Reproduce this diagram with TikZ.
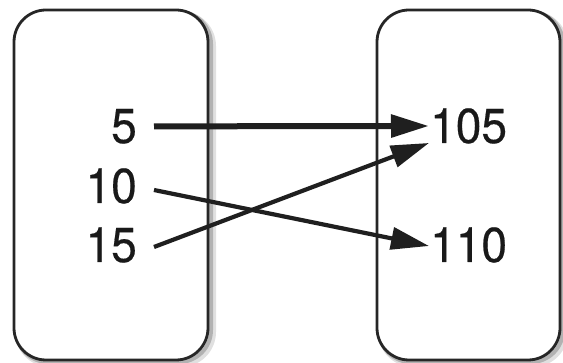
\documentclass[tikz,border=0pt]{standalone}
\usepackage{fontspec}
\setmainfont{TeX Gyre Heros}[FakeStretch=0.94,FakeBold=0.4]
\usetikzlibrary{arrows.meta}
\begin{document}
\begin{tikzpicture}[x=1pt,y=-1pt,
  setbox/.style={draw=black!85,line width=2.8pt,rounded corners=32pt,fill=white},
  shade1/.style={draw=black!30,line width=4pt,rounded corners=32pt},
  shade2/.style={draw=black!12,line width=6pt,rounded corners=32pt},
  num/.style={inner sep=0pt,font=\fontsize{49}{50}\selectfont,text=black!90},
  arr/.style={draw=black!88,line width=4.2pt,-{Triangle[length=38pt,width=22pt]}},
  arrthick/.style={arr,line width=6pt}]
\useasboundingbox (0,0) rectangle (563,363);
% soft shadows
\draw[shade2] (18,14) rectangle (213,364);
\draw[shade1] (16,12) rectangle (211,362);
\draw[shade2] (381,14) rectangle (565,364);
\draw[shade1] (379,12) rectangle (563,362);
% set boxes
\path[setbox] (14,10) rectangle (208,360);
\path[setbox] (377,10) rectangle (560,360);
% numbers
\node[num,anchor=base east] (n5)  at (137,143) {5};
\node[num,anchor=base east] (n10) at (137,203) {10};
\node[num,anchor=base east] (n15) at (137,262) {15};
\node[num,anchor=base west] (n105) at (430,143) {105};
\node[num,anchor=base west] (n110) at (430,262) {110};
% arrows
\draw[arrthick] ([shift={(17,0)}]n5.east) -- ([shift={(-1,0)}]n105.west);
\draw[arr] ([shift={(17,4)}]n10.east) -- ([shift={(-1,1)}]n110.west);
\draw[arr] ([shift={(17,2)}]n15.east) -- ([shift={(-1,17)}]n105.west);
\end{tikzpicture}
\end{document}
